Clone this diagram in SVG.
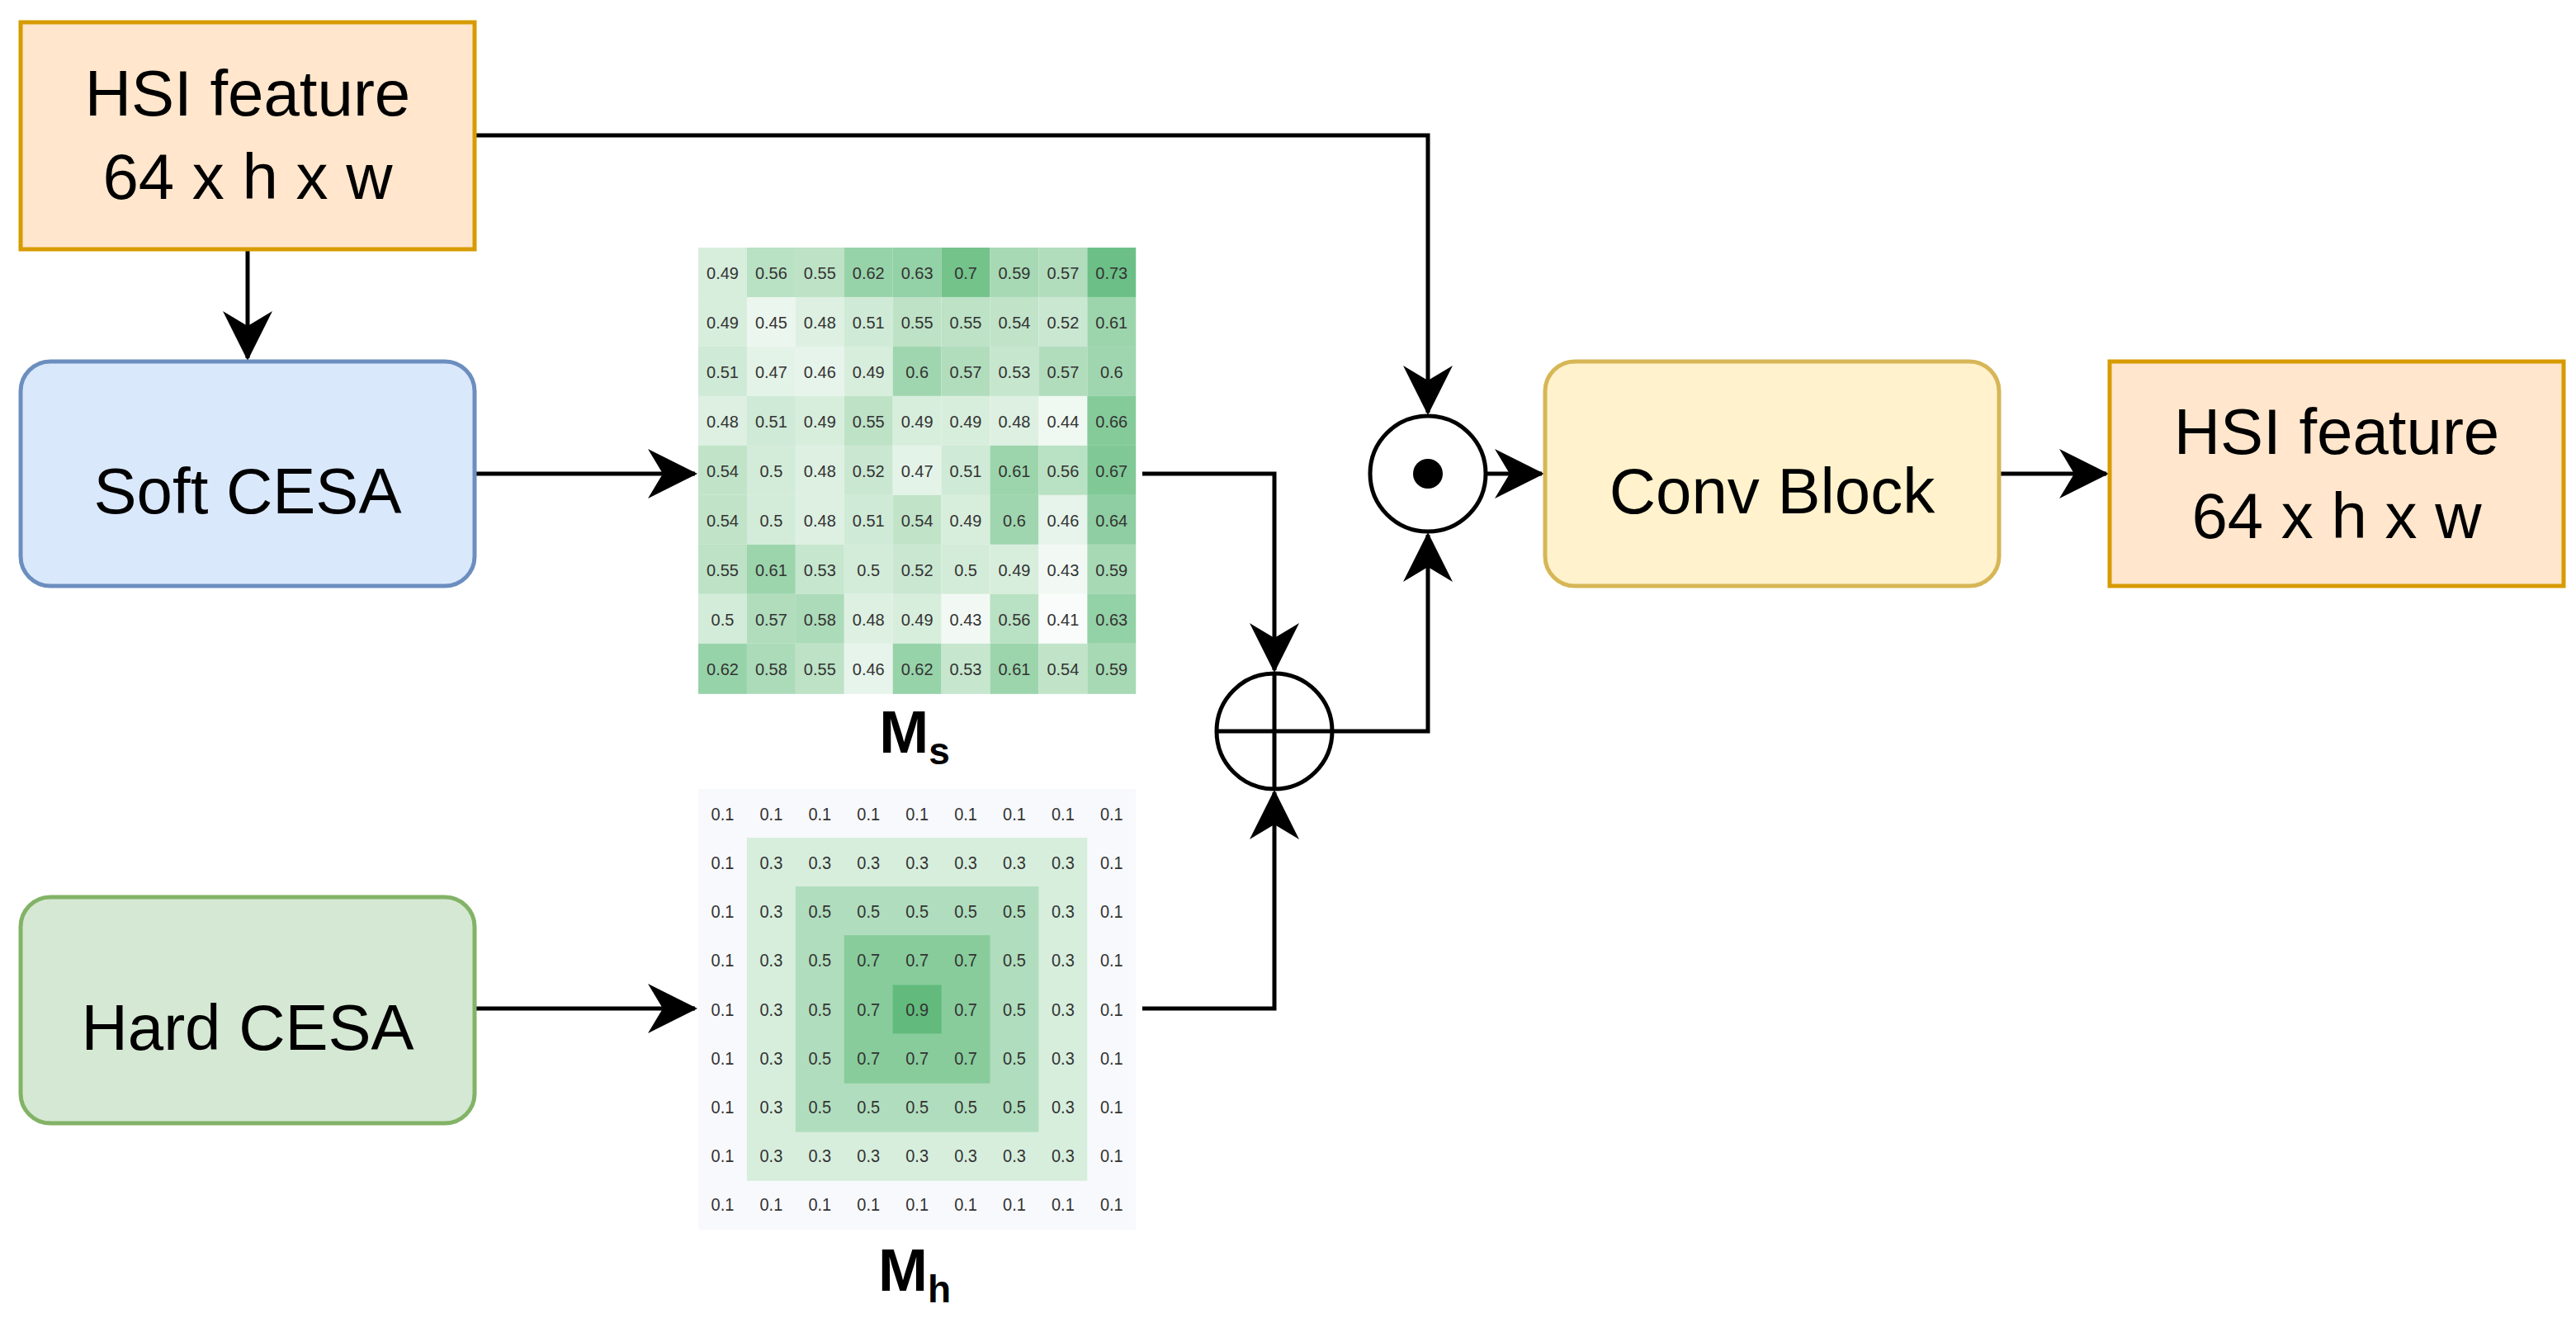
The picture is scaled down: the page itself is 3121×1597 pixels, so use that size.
<svg xmlns="http://www.w3.org/2000/svg" width="3121" height="1597" viewBox="0 0 3121 1597">
<style>
.lbl{font-family:"Liberation Sans",Arial,sans-serif;font-size:78px;fill:#000;text-anchor:middle}
.c{font-family:"Liberation Sans",Arial,sans-serif;font-size:19px;fill:#333;text-anchor:middle;dominant-baseline:central}
.m{font-family:"Liberation Sans",Arial,sans-serif;font-weight:bold;font-size:72px;fill:#000;text-anchor:middle}
.e{fill:none;stroke:#000;stroke-width:5}
</style>
<defs>
<marker id="b" viewBox="0 0 60 60" refX="57" refY="30" markerWidth="60" markerHeight="60" markerUnits="userSpaceOnUse" orient="auto">
<path d="M0,0 L60,30 L0,60 L18,30 Z" fill="#000"/>
</marker>
</defs>
<rect width="3121" height="1597" fill="#fff"/>
<g id="connectors">
<path class="e" d="M300,302 V434" marker-end="url(#b)"/>
<path class="e" d="M576,164 H1730 V500" marker-end="url(#b)"/>
<path class="e" d="M576,574 H842" marker-end="url(#b)"/>
<path class="e" d="M1384,574 H1544 V812" marker-end="url(#b)"/>
<path class="e" d="M576,1222 H842" marker-end="url(#b)"/>
<path class="e" d="M1384,1222 H1544 V960" marker-end="url(#b)"/>
<path class="e" d="M1614,886 H1730 V648" marker-end="url(#b)"/>
<path class="e" d="M1800,574 H1868" marker-end="url(#b)"/>
<path class="e" d="M2422,574 H2552" marker-end="url(#b)"/>
</g>
<g id="hsi-in"><rect x="25" y="27" width="550" height="275" fill="#ffe6cc" stroke="#d79b00" stroke-width="5"/>
<text class="lbl" x="300" y="140">HSI feature</text><text class="lbl" x="300" y="241">64 x h x w</text></g>
<g id="soft"><rect x="25" y="438" width="550" height="272" rx="36" fill="#dae8fc" stroke="#6c8ebf" stroke-width="5"/>
<text class="lbl" x="300" y="622">Soft CESA</text></g>
<g id="hard"><rect x="25" y="1087" width="550" height="274" rx="36" fill="#d5e8d4" stroke="#82b366" stroke-width="5"/>
<text class="lbl" x="300" y="1272">Hard CESA</text></g>
<g id="conv"><rect x="1872" y="438" width="550" height="272" rx="36" fill="#fff2cc" stroke="#d6b656" stroke-width="5"/>
<text class="lbl" x="2147" y="622">Conv Block</text></g>
<g id="hsi-out"><rect x="2556" y="438" width="550" height="272" fill="#ffe6cc" stroke="#d79b00" stroke-width="5"/>
<text class="lbl" x="2831" y="550">HSI feature</text><text class="lbl" x="2831" y="652">64 x h x w</text></g>
<g id="odot"><circle cx="1730" cy="574" r="70" fill="#fff" stroke="#000" stroke-width="5"/><circle cx="1730" cy="574" r="18" fill="#000"/></g>
<g id="oplus"><circle cx="1544" cy="886" r="70" fill="#fff" stroke="#000" stroke-width="5"/><path d="M1474,886 H1614 M1544,816 V956" stroke="#000" stroke-width="5"/></g>
<g id="Ms">
<g transform="matrix(1.052,0,0,1.071,-38.7,-18.1)">
<rect x="841" y="297" width="56" height="56" fill="#d8eedd"/><rect x="897" y="297" width="56" height="56" fill="#b9e1c3"/><rect x="953" y="297" width="56" height="56" fill="#bde2c6"/><rect x="1009" y="297" width="56" height="56" fill="#97d3a9"/><rect x="1065" y="297" width="56" height="56" fill="#93d1a6"/><rect x="1121" y="297" width="56" height="56" fill="#73c38b"/><rect x="1177" y="297" width="56" height="56" fill="#a6d9b4"/><rect x="1233" y="297" width="56" height="56" fill="#b1ddbd"/><rect x="1289" y="297" width="56" height="56" fill="#6cc087"/>
<rect x="841" y="353" width="56" height="56" fill="#d8eedd"/><rect x="897" y="353" width="56" height="56" fill="#ebf6ee"/><rect x="953" y="353" width="56" height="56" fill="#ddf0e2"/><rect x="1009" y="353" width="56" height="56" fill="#cfead6"/><rect x="1065" y="353" width="56" height="56" fill="#bde2c6"/><rect x="1121" y="353" width="56" height="56" fill="#bde2c6"/><rect x="1177" y="353" width="56" height="56" fill="#c1e4c9"/><rect x="1233" y="353" width="56" height="56" fill="#cae7d2"/><rect x="1289" y="353" width="56" height="56" fill="#9cd5ac"/>
<rect x="841" y="409" width="56" height="56" fill="#cfead6"/><rect x="897" y="409" width="56" height="56" fill="#e4f3e8"/><rect x="953" y="409" width="56" height="56" fill="#e7f4eb"/><rect x="1009" y="409" width="56" height="56" fill="#d8eedd"/><rect x="1065" y="409" width="56" height="56" fill="#a0d6af"/><rect x="1121" y="409" width="56" height="56" fill="#b1ddbd"/><rect x="1177" y="409" width="56" height="56" fill="#c6e6ce"/><rect x="1233" y="409" width="56" height="56" fill="#b1ddbd"/><rect x="1289" y="409" width="56" height="56" fill="#a0d6af"/>
<rect x="841" y="465" width="56" height="56" fill="#ddf0e2"/><rect x="897" y="465" width="56" height="56" fill="#cfead6"/><rect x="953" y="465" width="56" height="56" fill="#d8eedd"/><rect x="1009" y="465" width="56" height="56" fill="#bde2c6"/><rect x="1065" y="465" width="56" height="56" fill="#d8eedd"/><rect x="1121" y="465" width="56" height="56" fill="#d8eedd"/><rect x="1177" y="465" width="56" height="56" fill="#ddf0e2"/><rect x="1233" y="465" width="56" height="56" fill="#eff8f1"/><rect x="1289" y="465" width="56" height="56" fill="#85cb9a"/>
<rect x="841" y="521" width="56" height="56" fill="#c1e4c9"/><rect x="897" y="521" width="56" height="56" fill="#d3ecd9"/><rect x="953" y="521" width="56" height="56" fill="#ddf0e2"/><rect x="1009" y="521" width="56" height="56" fill="#cae7d2"/><rect x="1065" y="521" width="56" height="56" fill="#e4f3e8"/><rect x="1121" y="521" width="56" height="56" fill="#cfead6"/><rect x="1177" y="521" width="56" height="56" fill="#9cd5ac"/><rect x="1233" y="521" width="56" height="56" fill="#b9e1c3"/><rect x="1289" y="521" width="56" height="56" fill="#80c996"/>
<rect x="841" y="577" width="56" height="56" fill="#c1e4c9"/><rect x="897" y="577" width="56" height="56" fill="#d3ecd9"/><rect x="953" y="577" width="56" height="56" fill="#ddf0e2"/><rect x="1009" y="577" width="56" height="56" fill="#cfead6"/><rect x="1065" y="577" width="56" height="56" fill="#c1e4c9"/><rect x="1121" y="577" width="56" height="56" fill="#d8eedd"/><rect x="1177" y="577" width="56" height="56" fill="#a0d6af"/><rect x="1233" y="577" width="56" height="56" fill="#e7f4eb"/><rect x="1289" y="577" width="56" height="56" fill="#8ecea2"/>
<rect x="841" y="633" width="56" height="56" fill="#bde2c6"/><rect x="897" y="633" width="56" height="56" fill="#9cd5ac"/><rect x="953" y="633" width="56" height="56" fill="#c6e6ce"/><rect x="1009" y="633" width="56" height="56" fill="#d3ecd9"/><rect x="1065" y="633" width="56" height="56" fill="#cae7d2"/><rect x="1121" y="633" width="56" height="56" fill="#d3ecd9"/><rect x="1177" y="633" width="56" height="56" fill="#d8eedd"/><rect x="1233" y="633" width="56" height="56" fill="#f2f9f4"/><rect x="1289" y="633" width="56" height="56" fill="#a6d9b4"/>
<rect x="841" y="689" width="56" height="56" fill="#d3ecd9"/><rect x="897" y="689" width="56" height="56" fill="#b1ddbd"/><rect x="953" y="689" width="56" height="56" fill="#acdbb9"/><rect x="1009" y="689" width="56" height="56" fill="#ddf0e2"/><rect x="1065" y="689" width="56" height="56" fill="#d8eedd"/><rect x="1121" y="689" width="56" height="56" fill="#f2f9f4"/><rect x="1177" y="689" width="56" height="56" fill="#b9e1c3"/><rect x="1233" y="689" width="56" height="56" fill="#f9fcfa"/><rect x="1289" y="689" width="56" height="56" fill="#93d1a6"/>
<rect x="841" y="745" width="56" height="57" fill="#97d3a9"/><rect x="897" y="745" width="56" height="57" fill="#acdbb9"/><rect x="953" y="745" width="56" height="57" fill="#bde2c6"/><rect x="1009" y="745" width="56" height="57" fill="#e7f4eb"/><rect x="1065" y="745" width="56" height="57" fill="#97d3a9"/><rect x="1121" y="745" width="56" height="57" fill="#c6e6ce"/><rect x="1177" y="745" width="56" height="57" fill="#9cd5ac"/><rect x="1233" y="745" width="56" height="57" fill="#c1e4c9"/><rect x="1289" y="745" width="56" height="57" fill="#a6d9b4"/>
<text class="c" x="869" y="326">0.49</text><text class="c" x="925" y="326">0.56</text><text class="c" x="981" y="326">0.55</text><text class="c" x="1037" y="326">0.62</text><text class="c" x="1093" y="326">0.63</text><text class="c" x="1149" y="326">0.7</text><text class="c" x="1205" y="326">0.59</text><text class="c" x="1261" y="326">0.57</text><text class="c" x="1317" y="326">0.73</text>
<text class="c" x="869" y="382">0.49</text><text class="c" x="925" y="382">0.45</text><text class="c" x="981" y="382">0.48</text><text class="c" x="1037" y="382">0.51</text><text class="c" x="1093" y="382">0.55</text><text class="c" x="1149" y="382">0.55</text><text class="c" x="1205" y="382">0.54</text><text class="c" x="1261" y="382">0.52</text><text class="c" x="1317" y="382">0.61</text>
<text class="c" x="869" y="438">0.51</text><text class="c" x="925" y="438">0.47</text><text class="c" x="981" y="438">0.46</text><text class="c" x="1037" y="438">0.49</text><text class="c" x="1093" y="438">0.6</text><text class="c" x="1149" y="438">0.57</text><text class="c" x="1205" y="438">0.53</text><text class="c" x="1261" y="438">0.57</text><text class="c" x="1317" y="438">0.6</text>
<text class="c" x="869" y="494">0.48</text><text class="c" x="925" y="494">0.51</text><text class="c" x="981" y="494">0.49</text><text class="c" x="1037" y="494">0.55</text><text class="c" x="1093" y="494">0.49</text><text class="c" x="1149" y="494">0.49</text><text class="c" x="1205" y="494">0.48</text><text class="c" x="1261" y="494">0.44</text><text class="c" x="1317" y="494">0.66</text>
<text class="c" x="869" y="550">0.54</text><text class="c" x="925" y="550">0.5</text><text class="c" x="981" y="550">0.48</text><text class="c" x="1037" y="550">0.52</text><text class="c" x="1093" y="550">0.47</text><text class="c" x="1149" y="550">0.51</text><text class="c" x="1205" y="550">0.61</text><text class="c" x="1261" y="550">0.56</text><text class="c" x="1317" y="550">0.67</text>
<text class="c" x="869" y="606">0.54</text><text class="c" x="925" y="606">0.5</text><text class="c" x="981" y="606">0.48</text><text class="c" x="1037" y="606">0.51</text><text class="c" x="1093" y="606">0.54</text><text class="c" x="1149" y="606">0.49</text><text class="c" x="1205" y="606">0.6</text><text class="c" x="1261" y="606">0.46</text><text class="c" x="1317" y="606">0.64</text>
<text class="c" x="869" y="662">0.55</text><text class="c" x="925" y="662">0.61</text><text class="c" x="981" y="662">0.53</text><text class="c" x="1037" y="662">0.5</text><text class="c" x="1093" y="662">0.52</text><text class="c" x="1149" y="662">0.5</text><text class="c" x="1205" y="662">0.49</text><text class="c" x="1261" y="662">0.43</text><text class="c" x="1317" y="662">0.59</text>
<text class="c" x="869" y="718">0.5</text><text class="c" x="925" y="718">0.57</text><text class="c" x="981" y="718">0.58</text><text class="c" x="1037" y="718">0.48</text><text class="c" x="1093" y="718">0.49</text><text class="c" x="1149" y="718">0.43</text><text class="c" x="1205" y="718">0.56</text><text class="c" x="1261" y="718">0.41</text><text class="c" x="1317" y="718">0.63</text>
<text class="c" x="869" y="774">0.62</text><text class="c" x="925" y="774">0.58</text><text class="c" x="981" y="774">0.55</text><text class="c" x="1037" y="774">0.46</text><text class="c" x="1093" y="774">0.62</text><text class="c" x="1149" y="774">0.53</text><text class="c" x="1205" y="774">0.61</text><text class="c" x="1261" y="774">0.54</text><text class="c" x="1317" y="774">0.59</text>
</g>
<text class="m" x="1108" y="912">M<tspan font-size="46" dy="14">s</tspan></text>
</g>
<g id="Mh">
<g transform="matrix(1.052,0,0,1.205,-38.7,-180.3)">
<rect x="841" y="943" width="504" height="443" fill="#f8f9fc"/>
<rect x="897" y="992" width="392" height="345" fill="#d7eedd"/>
<rect x="953" y="1041" width="280" height="247" fill="#b0ddbd"/>
<rect x="1009" y="1090" width="168" height="149" fill="#88cc9c"/>
<rect x="1065" y="1140" width="56" height="49" fill="#62bb7c"/>
<text class="c" x="869" y="968">0.1</text><text class="c" x="925" y="968">0.1</text><text class="c" x="981" y="968">0.1</text><text class="c" x="1037" y="968">0.1</text><text class="c" x="1093" y="968">0.1</text><text class="c" x="1149" y="968">0.1</text><text class="c" x="1205" y="968">0.1</text><text class="c" x="1261" y="968">0.1</text><text class="c" x="1317" y="968">0.1</text>
<text class="c" x="869" y="1017">0.1</text><text class="c" x="925" y="1017">0.3</text><text class="c" x="981" y="1017">0.3</text><text class="c" x="1037" y="1017">0.3</text><text class="c" x="1093" y="1017">0.3</text><text class="c" x="1149" y="1017">0.3</text><text class="c" x="1205" y="1017">0.3</text><text class="c" x="1261" y="1017">0.3</text><text class="c" x="1317" y="1017">0.1</text>
<text class="c" x="869" y="1066">0.1</text><text class="c" x="925" y="1066">0.3</text><text class="c" x="981" y="1066">0.5</text><text class="c" x="1037" y="1066">0.5</text><text class="c" x="1093" y="1066">0.5</text><text class="c" x="1149" y="1066">0.5</text><text class="c" x="1205" y="1066">0.5</text><text class="c" x="1261" y="1066">0.3</text><text class="c" x="1317" y="1066">0.1</text>
<text class="c" x="869" y="1115">0.1</text><text class="c" x="925" y="1115">0.3</text><text class="c" x="981" y="1115">0.5</text><text class="c" x="1037" y="1115">0.7</text><text class="c" x="1093" y="1115">0.7</text><text class="c" x="1149" y="1115">0.7</text><text class="c" x="1205" y="1115">0.5</text><text class="c" x="1261" y="1115">0.3</text><text class="c" x="1317" y="1115">0.1</text>
<text class="c" x="869" y="1165">0.1</text><text class="c" x="925" y="1165">0.3</text><text class="c" x="981" y="1165">0.5</text><text class="c" x="1037" y="1165">0.7</text><text class="c" x="1093" y="1165">0.9</text><text class="c" x="1149" y="1165">0.7</text><text class="c" x="1205" y="1165">0.5</text><text class="c" x="1261" y="1165">0.3</text><text class="c" x="1317" y="1165">0.1</text>
<text class="c" x="869" y="1214">0.1</text><text class="c" x="925" y="1214">0.3</text><text class="c" x="981" y="1214">0.5</text><text class="c" x="1037" y="1214">0.7</text><text class="c" x="1093" y="1214">0.7</text><text class="c" x="1149" y="1214">0.7</text><text class="c" x="1205" y="1214">0.5</text><text class="c" x="1261" y="1214">0.3</text><text class="c" x="1317" y="1214">0.1</text>
<text class="c" x="869" y="1263">0.1</text><text class="c" x="925" y="1263">0.3</text><text class="c" x="981" y="1263">0.5</text><text class="c" x="1037" y="1263">0.5</text><text class="c" x="1093" y="1263">0.5</text><text class="c" x="1149" y="1263">0.5</text><text class="c" x="1205" y="1263">0.5</text><text class="c" x="1261" y="1263">0.3</text><text class="c" x="1317" y="1263">0.1</text>
<text class="c" x="869" y="1312">0.1</text><text class="c" x="925" y="1312">0.3</text><text class="c" x="981" y="1312">0.3</text><text class="c" x="1037" y="1312">0.3</text><text class="c" x="1093" y="1312">0.3</text><text class="c" x="1149" y="1312">0.3</text><text class="c" x="1205" y="1312">0.3</text><text class="c" x="1261" y="1312">0.3</text><text class="c" x="1317" y="1312">0.1</text>
<text class="c" x="869" y="1361">0.1</text><text class="c" x="925" y="1361">0.1</text><text class="c" x="981" y="1361">0.1</text><text class="c" x="1037" y="1361">0.1</text><text class="c" x="1093" y="1361">0.1</text><text class="c" x="1149" y="1361">0.1</text><text class="c" x="1205" y="1361">0.1</text><text class="c" x="1261" y="1361">0.1</text><text class="c" x="1317" y="1361">0.1</text>
</g>
<text class="m" x="1108" y="1564">M<tspan font-size="46" dy="14">h</tspan></text>
</g>
</svg>
